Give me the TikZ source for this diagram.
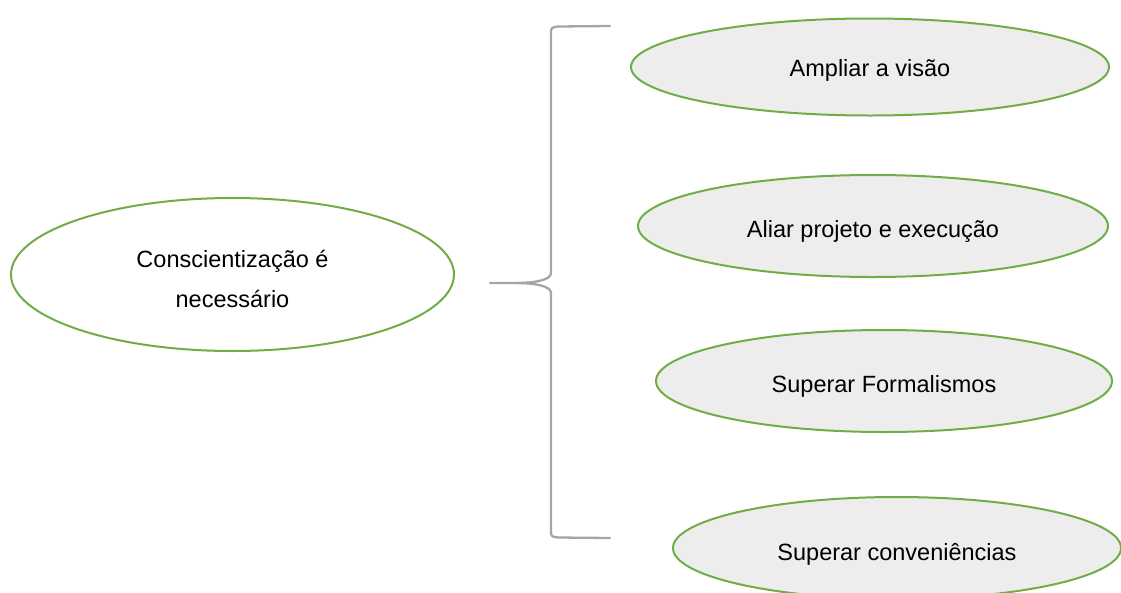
\documentclass[tikz,border=0pt]{standalone}
\usepackage{fontspec}
\setmainfont{Liberation Sans}
\usetikzlibrary{shapes.geometric}
\definecolor{ogreen}{HTML}{70AD47}
\definecolor{ofill}{HTML}{EDEDED}
\definecolor{bgray}{HTML}{A5A5A5}
\newcommand{\lowtext}[2]{\raisebox{-#1}[\height][\depth]{\begin{tabular}{@{}c@{}}#2\end{tabular}}}
\begin{document}
\begin{tikzpicture}[x=1pt,y=-1pt,
  oval/.style={ellipse, draw=ogreen, line width=2pt, inner sep=0pt, align=center,
    font=\fontsize{23.5}{40}\selectfont},
  item/.style={oval, fill=ofill},
  bracel/.style={draw=bgray, line width=2.3pt, line cap=round, line join=round}]
\useasboundingbox (0,0) rectangle (1121,592);
\clip (0,0) rectangle (1121,592);
\node[oval, minimum width=443pt, minimum height=153pt] (main) at (232.5,274.5) {\lowtext{5pt}{Conscientização é\\necessário}};
\node[item, minimum width=478pt, minimum height=97pt] (a) at (870,67) {\lowtext{1pt}{Ampliar a visão}};
\node[item, minimum width=470pt, minimum height=102pt] (b) at (873,226) {\lowtext{3pt}{Aliar projeto e execução}};
\node[item, minimum width=456pt, minimum height=102pt] (c) at (884,381) {\lowtext{3pt}{Superar Formalismos}};
\node[item, minimum width=448pt, minimum height=102pt] (d) at (897,548) {\lowtext{4pt}{Superar conveniências}};
\coordinate (tip) at (490,283);
\coordinate (btop) at (610,26);
\coordinate (bbot) at (610,538);
\draw[bracel] (btop) -- (558,26.5) .. controls (551,27.5) .. (551,34) -- (551,273)
  .. controls (551,280) and (535,283) .. (515,283) -- (tip);
\draw[bracel] (515,283) .. controls (535,283) and (551,286) .. (551,293) -- (551,530)
  .. controls (551,536.5) .. (558,537.5) -- (bbot);
\end{tikzpicture}
\end{document}
